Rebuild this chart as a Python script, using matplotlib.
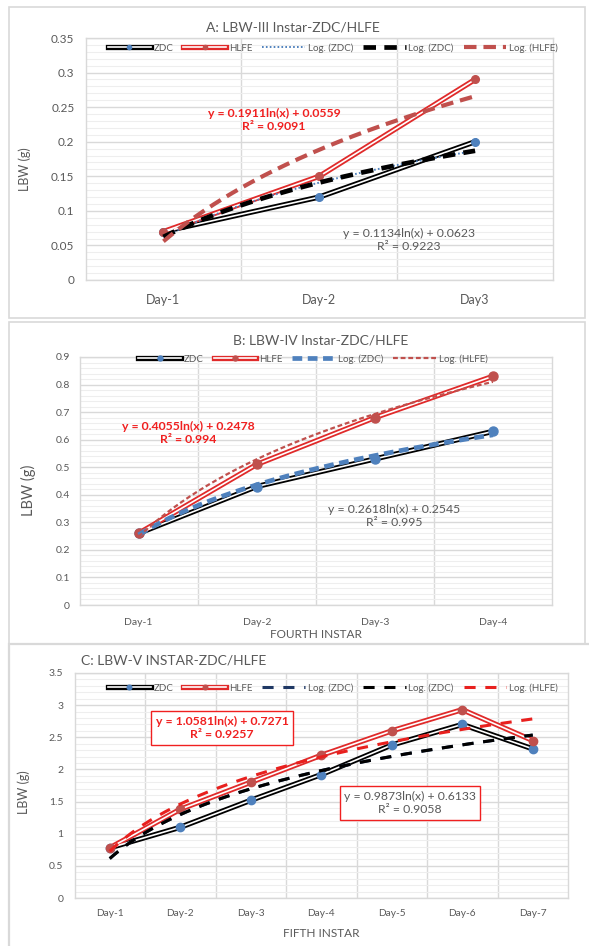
import numpy as np
import matplotlib.pyplot as plt
from matplotlib.patches import Rectangle
from matplotlib.legend_handler import HandlerTuple

plt.rcParams['font.family'] = ['Lato', 'DejaVu Sans']
plt.rcParams['lines.scale_dashes'] = False

W, H = 589, 946

# A: third instar
days_a = ["Day-1", "Day-2", "Day3"]
zdc_a = [0.07, 0.12, 0.20]
hlfe_a = [0.07, 0.15, 0.29]
fit_zdc_a = (0.1134, 0.0623, 0.9223)
fit_hlfe_a = (0.1911, 0.0559, 0.9091)
yticks_a = [0, 0.05, 0.1, 0.15, 0.2, 0.25, 0.3, 0.35]
ylabels_a = ["0", "0.05", "0.1", "0.15", "0.2", "0.25", "0.3", "0.35"]

# B: fourth instar
days_b = ["Day-1", "Day-2", "Day-3", "Day-4"]
zdc_b = [0.26, 0.43, 0.53, 0.63]
hlfe_b = [0.26, 0.51, 0.68, 0.83]
fit_zdc_b = (0.2618, 0.2545, 0.995)
fit_hlfe_b = (0.4055, 0.2478, 0.994)
yticks_b = [0, 0.1, 0.2, 0.3, 0.4, 0.5, 0.6, 0.7, 0.8, 0.9]
ylabels_b = ["0", "0.1", "0.2", "0.3", "0.4", "0.5", "0.6", "0.7", "0.8", "0.9"]

# C: fifth instar
days_c = ["Day-1", "Day-2", "Day-3", "Day-4", "Day-5", "Day-6", "Day-7"]
zdc_c = [0.78, 1.10, 1.52, 1.92, 2.38, 2.70, 2.32]
hlfe_c = [0.78, 1.38, 1.80, 2.22, 2.60, 2.93, 2.45]
fit_zdc_c = (0.9873, 0.6133, 0.9058)
fit_hlfe_c = (1.0581, 0.7271, 0.9257)
yticks_c = [0, 0.5, 1, 1.5, 2, 2.5, 3, 3.5]
ylabels_c = ["0", "0.5", "1", "1.5", "2", "2.5", "3", "3.5"]

GREY = '#595959'
GRID = '#D9D9D9'
MINOR = '#EEEEEE'
RED = '#E02A2A'
EQRED = '#F02020'
BLUE = '#4F81BD'
DRED = '#C0504D'


def fx(p):
    return p / W


def fy(p):
    return 1 - p / H


def make_axes(fig, left, top, right, bottom, zorder=0):
    ax = fig.add_axes([fx(left), fy(bottom), (right - left) / W, (bottom - top) / H],
                      zorder=zorder)
    return ax


def style_axes(ax, days, yticks, ylabels, yminor, fs_x, fs_y, padx, pady):
    n = len(days)
    x = np.arange(1, n + 1)
    ax.set_xlim(0.5, n + 0.5)
    ax.set_ylim(yticks[0], yticks[-1])
    ax.set_xticks(x)
    ax.set_xticklabels(days)
    ax.set_xticks(np.arange(1.5, n, 1), minor=True)
    ax.set_yticks(yticks)
    ax.set_yticklabels(ylabels)
    ax.set_yticks(np.arange(yticks[0], yticks[-1] + 1e-9, yminor), minor=True)
    ax.tick_params(axis='both', which='both', length=0, colors=GREY)
    ax.tick_params(axis='x', labelsize=fs_x, pad=padx)
    ax.tick_params(axis='y', labelsize=fs_y, pad=pady)
    ax.grid(which='minor', axis='y', color=MINOR, lw=0.8, zorder=0)
    ax.grid(which='major', axis='y', color=GRID, lw=1.0, zorder=0)
    ax.grid(which='minor', axis='x', color=GRID, lw=1.0, zorder=0)
    ax.set_axisbelow(True)
    for s in ax.spines.values():
        s.set_color(GRID)
        s.set_linewidth(1.0)
    return x


def double_line(ax, x, y, color, mcolor, ms):
    outer, = ax.plot(x, y, color=color, lw=3.8, zorder=3)
    inner, = ax.plot(x, y, color='white', lw=1.2, zorder=3.1)
    dots, = ax.plot(x, y, ls='none', marker='o', ms=ms, color=mcolor, zorder=3.2)
    return (outer, inner, dots)


def log_fit(ax, n, fit, **kw):
    xs = np.linspace(1, n, 200)
    line, = ax.plot(xs, fit[0] * np.log(xs) + fit[1], zorder=4, **kw)
    return line


def eq_text(fit):
    return "y = {:.4f}ln(x) + {:.4f}\nR² = {}".format(fit[0], fit[1], fit[2])


def add_legend(fig, ax, handles, labels, cx, cy):
    ax.legend(handles, labels, loc='center', bbox_to_anchor=(fx(cx), fy(cy)),
              bbox_transform=fig.transFigure, ncol=len(handles), frameon=False,
              fontsize=7, handlelength=4.4, handletextpad=0.3, columnspacing=1.0,
              borderpad=0, labelcolor=GREY, markerscale=0.55,
              handler_map={tuple: HandlerTuple(ndivide=1, pad=0)})


fig = plt.figure(figsize=(W / 100, H / 100), dpi=100)

# panel frames
fig.patches.append(Rectangle((fx(9), fy(318)), (585 - 9) / W, (318 - 7) / H,
                             transform=fig.transFigure, fc='none', ec=GRID, lw=1.2))
fig.patches.append(Rectangle((fx(9), fy(660)), (585 - 9) / W, (660 - 322) / H,
                             transform=fig.transFigure, fc='none', ec=GRID, lw=1.2))

# ---- A ----
ax = make_axes(fig, 85.5, 38, 553, 280)
x = style_axes(ax, days_a, yticks_a, ylabels_a, 0.01, 9, 8.5, 10, 8)
n = len(days_a)
h_zdc = double_line(ax, x, zdc_a, 'black', BLUE, 5.5)
h_hlfe = double_line(ax, x, hlfe_a, RED, DRED, 5.5)
l1 = log_fit(ax, n, fit_zdc_a, color=BLUE, lw=1.4, ls=(0, (1.2, 1.6)))
l2 = log_fit(ax, n, fit_zdc_a, color='black', lw=3.4, dashes=(9, 6))
l3 = log_fit(ax, n, fit_hlfe_a, color=DRED, lw=3.0, dashes=(9, 5))
add_legend(fig, ax, [h_zdc, h_hlfe, l1, l2, l3],
           ["ZDC", "HLFE", "Log. (ZDC)", "Log. (ZDC)", "Log. (HLFE)"], 333, 48)
fig.text(fx(293), fy(27), "A: LBW-III Instar-ZDC/HLFE", ha='center', va='center',
         fontsize=10, color=GREY)
fig.text(fx(25), fy(169), "LBW (g)", rotation=90, ha='center', va='center',
         fontsize=9, color=GREY)
fig.text(fx(274), fy(120), eq_text(fit_hlfe_a), ha='center', va='center',
         fontsize=8.8, color=EQRED, fontweight='bold', linespacing=1.3)
fig.text(fx(409), fy(240), eq_text(fit_zdc_a), ha='center', va='center',
         fontsize=8.8, color=GREY, linespacing=1.3)

# ---- B ----
ax = make_axes(fig, 79.5, 357, 552, 605)
x = style_axes(ax, days_b, yticks_b, ylabels_b, 0.02, 7.5, 7.5, 9, 7)
n = len(days_b)
h_zdc = double_line(ax, x, zdc_b, 'black', BLUE, 6.5)
h_hlfe = double_line(ax, x, hlfe_b, RED, DRED, 6.5)
l1 = log_fit(ax, n, fit_zdc_b, color=BLUE, lw=3.4, dashes=(7, 4))
l2 = log_fit(ax, n, fit_hlfe_b, color=DRED, lw=1.6, dashes=(3.5, 2))
add_legend(fig, ax, [h_zdc, h_hlfe, l1, l2],
           ["ZDC", "HLFE", "Log. (ZDC)", "Log. (HLFE)"], 313, 359)
fig.text(fx(321), fy(340), "B: LBW-IV Instar-ZDC/HLFE", ha='center', va='center',
         fontsize=10, color=GREY)
fig.text(fx(28), fy(490), "LBW (g)", rotation=90, ha='center', va='center',
         fontsize=10.5, color=GREY)
fig.text(fx(188), fy(433), eq_text(fit_hlfe_b), ha='center', va='center',
         fontsize=8.8, color=EQRED, fontweight='bold', linespacing=1.3)
fig.text(fx(394), fy(516), eq_text(fit_zdc_b), ha='center', va='center',
         fontsize=8.8, color=GREY, linespacing=1.3)
fig.text(fx(316), fy(634), "FOURTH INSTAR", ha='center', va='center',
         fontsize=8.5, color=GREY, zorder=1)

# ---- C ----
fig.patches.append(Rectangle((fx(9), fy(960)), (595 - 9) / W, (960 - 644) / H,
                             transform=fig.transFigure, fc='white', ec=GRID, lw=1.6,
                             zorder=2))
ax = make_axes(fig, 74.5, 673, 568, 898, zorder=3)
x = style_axes(ax, days_c, yticks_c, ylabels_c, 0.1, 7.3, 7.5, 8, 8)
n = len(days_c)
h_zdc = double_line(ax, x, zdc_c, 'black', BLUE, 6)
h_hlfe = double_line(ax, x, hlfe_c, RED, DRED, 6)
l1 = log_fit(ax, n, fit_zdc_c, color='#1F3864', lw=2.2, dashes=(8, 7))
l2 = log_fit(ax, n, fit_zdc_c, color='black', lw=2.2, dashes=(8, 7))
l3 = log_fit(ax, n, fit_hlfe_c, color='#E8201E', lw=2.2, dashes=(8, 7))
add_legend(fig, ax, [h_zdc, h_hlfe, l1, l2, l3],
           ["ZDC", "HLFE", "Log. (ZDC)", "Log. (ZDC)", "Log. (HLFE)"], 333, 688)
box = dict(boxstyle='square,pad=0.35', fc='white', ec=EQRED, lw=1.0)
fig.text(fx(222), fy(728), eq_text(fit_hlfe_c), ha='center', va='center',
         fontsize=8.8, color=EQRED, fontweight='bold', linespacing=1.3, bbox=box,
         zorder=6)
fig.text(fx(410), fy(803), eq_text(fit_zdc_c), ha='center', va='center',
         fontsize=8.8, color=GREY, linespacing=1.3, bbox=box, zorder=6)
fig.text(fx(81), fy(660), "C: LBW-V INSTAR-ZDC/HLFE", ha='left', va='center',
         fontsize=10, color=GREY, zorder=6)
fig.text(fx(24), fy(792), "LBW (g)", rotation=90, ha='center', va='center',
         fontsize=9, color=GREY, zorder=6)
fig.text(fx(321), fy(933), "FIFTH INSTAR", ha='center', va='center',
         fontsize=8.5, color=GREY, zorder=6)

fig.savefig("out.png", dpi=100)
